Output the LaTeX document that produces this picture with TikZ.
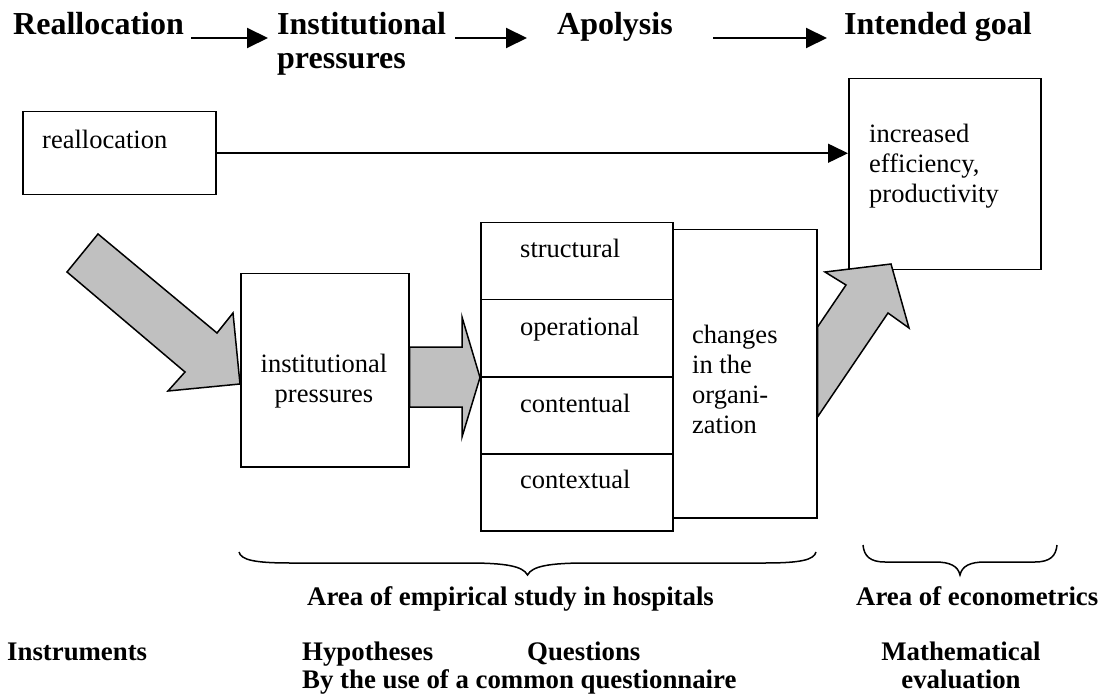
\documentclass[tikz,border=0pt]{standalone}
\usepackage{fontspec}
\setmainfont{Liberation Serif}
\usetikzlibrary{arrows.meta,calc}
% stacked lines whose baseline is that of the first line
\newcommand\linesl[1]{\begin{tabular}[t]{@{}l@{}}#1\end{tabular}}
\newcommand\linesc[1]{\begin{tabular}[t]{@{}c@{}}#1\end{tabular}}
\definecolor{blockgray}{HTML}{C0C0C0}
\begin{document}
\begin{tikzpicture}[x=1pt,y=-1pt,
  title/.style={inner sep=0pt,anchor=base west,font=\fontsize{32}{34}\selectfont\bfseries},
  body/.style={inner sep=0pt,anchor=base west,font=\fontsize{26.5}{30}\selectfont},
  foot/.style={inner sep=0pt,anchor=base west,font=\fontsize{26.8}{28}\selectfont\bfseries},
  box/.style={draw,line width=1.5pt,inner sep=0pt,anchor=north west,fill=white},
  tarrow/.style={line width=2pt,-{Triangle[length=21pt,width=20pt]}},
  link/.style={line width=1.5pt,-{Triangle[length=20pt,width=19pt]}},
  block/.style={draw,line width=1.5pt,fill=blockgray,line join=miter},
  brace/.style={line width=1.5pt}]
\useasboundingbox (0,0) rectangle (1101,695);

% ---- headline with the four stages
\node[title] (tReal) at (13,35) {Reallocation};
\node[title] (tInst) at (277,35) {\linesl{Institutional\\pressures}};
\node[title] (tApol) at (557,35) {Apolysis};
\node[title] (tGoal) at (844,35) {Intended goal};
\draw[tarrow] ([shift={(7,3)}]tReal.base east) -- ([shift={(-9,3)}]tInst.base west);
\draw[tarrow] ([shift={(9,3)}]tInst.base east) -- ([shift={(-30,3)}]tApol.base west);
\draw[tarrow] ([shift={(40,3)}]tApol.base east) -- ([shift={(-17,3)}]tGoal.base west);

% ---- boxes
\node[box,minimum width=193pt,minimum height=83pt] (bReal) at (22,111) {};
\node[body] (txReal) at (42,149) {reallocation};

\node[box,minimum width=192pt,minimum height=191pt] (bGoal) at (848,78) {};
\node[body] (txGoal) at (869,143) {\linesl{increased\\efficiency,\\productivity}};

\draw[link] (bReal.east) -- (bReal.east -| bGoal.west);

\node[box,minimum width=168pt,minimum height=193pt] (bInst) at (240,273) {};
\node[body,anchor=base] (txInst) at (324,372) {\linesc{institutional\\pressures}};

\node[box,minimum width=192pt,minimum height=77pt] (cStruct) at (480,222) {};
\node[box,minimum width=192pt,minimum height=77pt] (cOper) at (480,299) {};
\node[box,minimum width=192pt,minimum height=77pt] (cCont) at (480,376) {};
\node[box,minimum width=192pt,minimum height=77pt] (cCtx) at (480,453) {};
\node[body] (txStruct) at (520,258) {structural};
\node[body] (txOper) at (520,335) {operational};
\node[body] (txCont) at (520,412) {contentual};
\node[body] (txCtx) at (520,488) {contextual};

\node[box,minimum width=144pt,minimum height=288pt] (bChange) at (672,229) {};
\node[body] (txChange) at (692,343) {\linesl{changes\\in the\\organi-\\zation}};

% ---- grey block arrows
\draw[block] (67,272) -- (98,234) -- (217,333) -- (233,313) -- (bInst.west |- 0,384)
  -- (168,391) -- (185,372) -- cycle;
\draw[block] (bInst.east |- 0,347) -- (462,347) -- (462,317) -- (cOper.south west)
  -- (462,437) -- (462,407) -- (bInst.east |- 0,407) -- cycle;
\draw[block] (bChange.east |- 0,327) -- (846,285) -- (825,272) -- (891,264)
  -- (909,328) -- (888,313) -- (bChange.east |- 0,417) -- cycle;

% ---- braces
\draw[brace] (239,552) .. controls (241,560) and (255,563) .. (290,563) -- (468,563)
  .. controls (505,563) and (523,566) .. (527.5,575)
  .. controls (532,566) and (550,563) .. (587,563) -- (765,563)
  .. controls (800,563) and (814,560) .. (816,552);
\draw[brace] (863,545) .. controls (864,556) and (870,562) .. (885,562) -- (935,562)
  .. controls (950,562) and (958,566) .. (960,575)
  .. controls (962,566) and (970,562) .. (985,562) -- (1035,562)
  .. controls (1050,562) and (1056,556) .. (1057,545);

% ---- captions
\node[foot] (fEmp) at (307,605) {Area of empirical study in hospitals};
\node[foot] (fEco) at (856,605) {Area of econometrics};
\node[foot] (fInstr) at (7,660) {Instruments};
\node[foot] (fHyp) at (302,660) {Hypotheses};
\node[foot] (fQue) at (527,660) {Questions};
\node[foot] (fUse) at (302,688) {By the use of a common questionnaire};
\node[foot,anchor=base] (fMath) at (961,660) {\linesc{Mathematical\\evaluation}};
\end{tikzpicture}
\end{document}
